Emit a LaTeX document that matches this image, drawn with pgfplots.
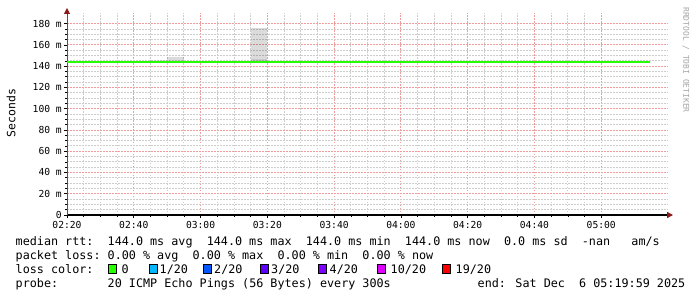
\documentclass[border=0pt]{standalone}
\usepackage{pgfplots}
\pgfplotsset{compat=1.18}
\usetikzlibrary{arrows.meta}
\usepackage{fontspec}
\setmainfont{DejaVu Sans Mono}
\setmonofont{DejaVu Sans Mono}
\definecolor{lc0}{HTML}{26FF00}
\definecolor{lc1}{HTML}{00B8FF}
\definecolor{lc2}{HTML}{0059FF}
\definecolor{lc3}{HTML}{5E00FF}
\definecolor{lc4}{HTML}{7E00FF}
\definecolor{lc10}{HTML}{DD00FF}
\definecolor{lc19}{HTML}{FF0000}
\definecolor{mgrid}{RGB}{238,158,158}
\definecolor{ngrid}{RGB}{205,205,205}
\definecolor{arrowc}{RGB}{140,25,25}
\definecolor{yaxc}{RGB}{100,75,75}
\newcommand{\legfont}{\fontsize{11.8}{14}\selectfont}
\newcommand{\tickfont}{\fontsize{9.7}{11}\selectfont}
\begin{document}
\begin{tikzpicture}[x=1bp,y=1bp]
\useasboundingbox (0,0) rectangle (697,297);
\fill[white] (0,0) rectangle (697,297);
\begin{axis}[
  at={(67bp,82bp)}, anchor=south west,
  scale only axis, width=601bp, height=202bp,
  xmin=0, xmax=180, ymin=0, ymax=190,
  axis x line=bottom, axis y line=left,
  x axis line style={black, line width=1.3bp, shorten >=-5bp, -{Triangle[length=6bp,width=6bp,color=arrowc]}},
  y axis line style={yaxc, line width=1bp, shorten >=-5bp, -{Triangle[length=6bp,width=6bp,color=arrowc]}},
  xtick={0,20,...,160},
  xticklabels={02:20,02:40,03:00,03:20,03:40,04:00,04:20,04:40,05:00},
  ytick={0,20,...,180},
  yticklabels={0,20 m,40 m,60 m,80 m,100 m,120 m,140 m,160 m,180 m},
  minor x tick num=3, minor y tick num=3,
  grid=both,
  major grid style={mgrid, line width=0.85bp, dash pattern=on 1.5bp off 1.5bp},
  minor grid style={ngrid, line width=0.85bp, dash pattern=on 1.5bp off 1.5bp},
  tick align=outside,
  major tick length=3bp, minor tick length=2bp,
  tick style={black, line width=0.6bp},
  xticklabel style={font=\tickfont, inner sep=0pt, anchor=base, yshift=-10bp},
  yticklabel style={font=\tickfont, inner sep=0pt, anchor=east, xshift=-2bp},
  clip=false,
]
\addplot[draw=none, fill=black, fill opacity=0.08] coordinates {(25,144) (25,146) (30,146) (30,144)} -- cycle;
\addplot[draw=none, fill=black, fill opacity=0.14] coordinates {(30,144) (30,149) (35,149) (35,144)} -- cycle;
\addplot[draw=none, fill=black, fill opacity=0.14] coordinates {(55,144) (55,176) (60,176) (60,144)} -- cycle;
\addplot[draw=none, fill=black, fill opacity=0.08] coordinates {(55,144) (55,147) (60,147) (60,144)} -- cycle;
\addplot[lc0, line width=2.2bp] coordinates {(0,144) (174.5,144)};
\end{axis}
\node[rotate=90, anchor=center, inner sep=0pt, font=\fontsize{11.5}{13}\selectfont] at (11,184) {Seconds};
\node[rotate=-90, anchor=center, inner sep=0pt, text=black!35, font=\fontsize{8}{9}\selectfont] at (686,237) {RRDTOOL / TOBI OETIKER};
\node[anchor=base west, inner sep=0pt, font=\legfont] at (15.5,52) {median rtt:~~144.0 ms avg~~144.0 ms max~~144.0 ms min~~144.0 ms now~~0.0 ms sd~~-nan~~~am/s};
\node[anchor=base west, inner sep=0pt, font=\legfont] at (15.5,38) {packet loss:~0.00 \% avg~~0.00 \% max~~0.00 \% min~~0.00 \% now};
\node[anchor=base west, inner sep=0pt, font=\legfont] at (15.5,24) {loss color:};
\draw[fill=lc0, line width=0.8bp] (108.5,23.5) rectangle (116.5,32.5);
\node[anchor=base west, inner sep=0pt, font=\legfont] at (121.5,24) {0};
\draw[fill=lc1, line width=0.8bp] (149.5,23.5) rectangle (157.5,32.5);
\node[anchor=base west, inner sep=0pt, font=\legfont] at (159.5,24) {1/20};
\draw[fill=lc2, line width=0.8bp] (203.5,23.5) rectangle (211.5,32.5);
\node[anchor=base west, inner sep=0pt, font=\legfont] at (214,24) {2/20};
\draw[fill=lc3, line width=0.8bp] (260,23.5) rectangle (268,32.5);
\node[anchor=base west, inner sep=0pt, font=\legfont] at (271,24) {3/20};
\draw[fill=lc4, line width=0.8bp] (318,23.5) rectangle (326,32.5);
\node[anchor=base west, inner sep=0pt, font=\legfont] at (329.5,24) {4/20};
\draw[fill=lc10, line width=0.8bp] (377,23.5) rectangle (385,32.5);
\node[anchor=base west, inner sep=0pt, font=\legfont] at (390.5,24) {10/20};
\draw[fill=lc19, line width=0.8bp] (442,23.5) rectangle (450,32.5);
\node[anchor=base west, inner sep=0pt, font=\legfont] at (455.5,24) {19/20};
\node[anchor=base west, inner sep=0pt, font=\legfont] at (15.5,10) {probe:~~~~~~~20 ICMP Echo Pings (56 Bytes) every 300s};
\node[anchor=base west, inner sep=0pt, font=\legfont] at (477.5,10) {end: Sat Dec~~6 05:19:59 2025};
\end{tikzpicture}
\end{document}
